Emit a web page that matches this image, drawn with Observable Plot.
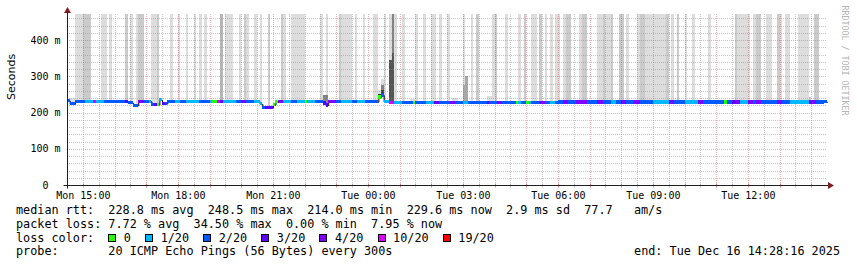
<!DOCTYPE html>
<html><head><meta charset="utf-8">
<script src="https://cdn.jsdelivr.net/npm/d3@7"></script>
<script src="https://cdn.jsdelivr.net/npm/@observablehq/plot@0.6"></script>
<style>
body{margin:0;background:#fff;}
#wrap{position:relative;width:857px;height:267px;overflow:hidden;background:#fff;}
#chart{position:absolute;left:0;top:0;}
.leg{position:absolute;left:16px;font-family:"DejaVu Sans Mono",monospace;font-size:11.8px;line-height:1;white-space:pre;color:#000;}
.box{display:inline-block;width:6px;height:6px;border:1px solid #000;margin-right:0.4px;vertical-align:baseline;}
</style></head>
<body><div id="wrap"><div id="chart"></div></div>
<script>
// ---------- data ----------
const xTickLabels = ["Mon 15:00","Mon 18:00","Mon 21:00","Tue 00:00","Tue 03:00","Tue 06:00","Tue 09:00","Tue 12:00"];
const yTickValues = [0,100,200,300,400];
const yTickLabels = ["0","100 m","200 m","300 m","400 m"];
const lossLevels = [0,1,2,3,4,10,19];
const lossLabels = ["0","1/20","2/20","3/20","4/20","10/20","19/20"];
const lossColors = ["#26ff00","#00b8ff","#0059ff","#5e00ff","#7e00ff","#dd00ff","#ff0000"];
const rttStats = ["228.8 ms avg","248.5 ms max","214.0 ms min","229.6 ms now","2.9 ms sd","77.7   am/s"];
const lossStats = ["7.72 % avg","34.50 % max","0.00 % min","7.95 % now"];
const probeText = "20 ICMP Echo Pings (56 Bytes) every 300s";
const endText = "end: Tue Dec 16 14:28:16 2025";

// median rtt (ms), value holds from the given time
const medianChanges = [["14:30",233],["14:35",224],["14:45",231],["16:25",227],["16:35",220],["16:45",231],
 ["17:10",222],["17:25",235],["17:30",225],["17:40",231],["20:35",224],["20:40",214],["21:00",222],["21:05",231],
 ["22:35",226],["22:40",221],["22:45",230],["00:20",243],["00:25",248.5],["00:30",231],["00:40",228],
 ["03:00",227],["06:00",229],["14:25",229.6]];

// lost pings out of 20, value holds from the given time
const lossChanges = [["14:30",2],["15:05",1],["15:20",10],["15:25",1],["15:40",2],["16:20",3],["16:25",2],["16:45",4],
 ["16:55",2],["17:05",1],["17:10",2],["17:15",3],["17:20",0],["17:25",1],["17:30",3],["17:35",2],["17:55",1],["18:05",2],
 ["18:15",1],["18:40",2],["19:00",1],["19:05",0],["19:15",10],["19:20",3],["19:25",1],["19:50",2],["20:00",4],["20:10",2],
 ["20:25",1],["20:40",2],["20:45",3],["21:00",0],["21:10",4],["21:20",1],["21:35",2],["21:45",1],["22:00",0],["22:05",1],
 ["22:20",2],["22:35",3],["22:45",4],["23:00",2],["23:10",1],["23:30",2],["23:40",1],["23:55",2],["00:20",0],["00:25",2],
 ["00:30",1],["00:40",10],["00:50",1],["01:05",2],["01:25",0],["01:30",2],["01:50",1],["02:05",3],["02:15",2],["02:35",4],
 ["02:45",2],["03:00",1],["03:10",2],["03:45",3],["03:50",2],["04:05",4],["04:15",2],["04:40",0],["04:45",1],["04:50",2],
 ["05:00",0],["05:05",1],["05:10",2],["05:25",4],["05:35",2],["05:45",1],["05:55",2],["06:10",4],["06:20",2],["06:35",4],
 ["06:55",2],["07:15",4],["07:25",2],["07:40",1],["07:50",2],["08:00",4],["08:10",2],["08:25",4],["08:35",2],["09:00",1],
 ["09:30",4],["09:40",2],["10:00",1],["10:25",4],["10:35",2],["11:15",0],["11:20",2],["11:30",3],["11:35",4],["11:45",1],
 ["12:00",4],["12:10",2],["12:15",4],["12:25",2],["12:55",4],["13:05",2],["13:20",1],["13:55",4],["14:10",2]];

// smoke: [from, to, highest ping (ms, 500 = above the chart), shade]
const smokeLayers = [
 ["14:35","14:45",240,"l"],["14:45","15:00",500,"l"],["15:00","15:15",500,"m"],["15:35","15:45",500,"l"],
 ["15:50","15:55",500,"l"],["16:20","16:25",500,"m"],["16:30","16:35",500,"l"],["16:40","16:45",500,"l"],
 ["16:45","16:55",500,"m"],["17:10","17:20",500,"l"],["17:20","17:25",500,"m"],["17:45","17:50",500,"l"],
 ["18:00","18:05",500,"l"],["18:15","18:20",500,"l"],["18:30","18:35",500,"l"],["18:40","18:45",500,"l"],
 ["18:50","18:55",500,"l"],["19:20","19:25",500,"d"],["19:30","19:45",500,"l"],["19:55","20:00",500,"l"],
 ["20:05","20:10",500,"m"],["20:10","20:15",500,"l"],["20:25","20:30",500,"l"],["20:35","20:40",500,"l"],
 ["20:50","20:55",500,"m"],["21:15","21:20",500,"m"],["21:20","21:25",500,"l"],["21:35","22:00",500,"l"],
 ["22:30","22:35",500,"l"],["22:40","22:45",500,"l"],["22:35","22:45",248,"k1"],["23:05","23:10",500,"m"],
 ["23:10","23:30",500,"l"],["23:35","23:40",500,"l"],["23:50","23:55",500,"l"],["00:10","00:20",500,"l"],
 ["00:20","00:25",262,"l"],["00:20","00:25",250,"k3"],["00:25","00:30",292,"l"],["00:25","00:30",277,"k1"],
 ["00:25","00:30",263,"k3"],["00:30","00:35",500,"l"],["00:40","00:45",500,"l"],["00:40","00:45",345,"k2"],
 ["00:45","00:50",500,"k1"],["00:45","00:50",364,"k2"],["00:50","00:55",500,"l"],["01:05","01:10",500,"l"],
 ["01:20","01:30",238,"l"],["01:30","01:35",500,"l"],["01:45","01:50",500,"l"],["02:00","02:10",500,"l"],
 ["02:15","02:20",500,"l"],["02:30","02:35",500,"l"],["02:40","02:50",240,"l"],["03:00","03:05",500,"l"],
 ["03:00","03:05",275,"k0"],["03:05","03:10",300,"k0"],["03:15","03:20",500,"l"],["03:25","03:30",500,"m"],
 ["03:45","03:55",246,"l"],["03:55","04:00",500,"l"],["04:00","04:05",500,"m"],["04:20","04:25",500,"l"],
 ["04:45","04:50",500,"l"],["04:55","05:00",500,"m"],["05:10","05:20",500,"l"],["05:25","05:30",500,"m"],
 ["05:35","05:40",500,"l"],["05:45","05:50",500,"l"],["05:55","06:05",500,"l"],["06:10","06:15",500,"l"],
 ["06:15","06:25",500,"m"],["06:40","06:45",500,"l"],["06:45","06:55",500,"m"],["07:15","07:25",500,"l"],
 ["07:25","07:30",500,"m"],["07:30","07:40",500,"l"],["07:40","07:45",500,"m"],["07:55","08:05",500,"m"],
 ["08:10","08:15",500,"l"],["08:30","08:35",500,"l"],["08:35","08:45",500,"m"],["08:45","09:25",500,"l"],
 ["09:25","09:30",500,"m"],["09:35","09:40",500,"l"],["09:45","09:50",500,"m"],["10:00","10:05",500,"l"],
 ["10:15","10:20",500,"l"],["10:45","10:50",500,"l"],["11:35","11:40",500,"m"],["11:40","12:05",500,"l"],
 ["12:10","12:15",500,"l"],["12:15","12:25",500,"m"],["12:35","12:45",500,"l"],["12:55","13:00",500,"m"],
 ["13:00","13:05",500,"l"],["13:10","13:20",500,"l"],["13:35","13:55",500,"l"],["13:55","14:00",242,"m"],
 ["14:05","14:15",500,"m"]];

// ---------- styles ----------
const shadeColor = {l:"#dddddd", m:"#cbcbcb", d:"#b6b6b6", k0:"#a9a9a9", k1:"#838383", k2:"#555555", k3:"#3c3c3c"};
const mono = "DejaVu Sans Mono";
const minorGrid = "#8f8f8f", minorOp = 0.5, majorGrid = "#de4f4f", majorOp = 0.45;
const arrowColor = "#7f1f1f", axisColor = "#1f1f1f";

// ---------- time helpers ----------
const t0 = Date.UTC(2025, 11, 15, 14, 30);
const tStart = new Date(t0), tEnd = new Date(t0 + 1440 * 60000);
function T(s){ const [h,m] = s.split(":").map(Number); let min = h*60 + m - (14*60+30); if (min < 0) min += 1440; return new Date(t0 + min*60000); }
function lookup(changes, t){ let v = changes[0][1]; for (const [s,val] of changes) { if (T(s) <= t) v = val; else break; } return v; }

const steps = d3.range(288).map(i => {
  const t = new Date(t0 + i*300000);
  return {t, t2: new Date(+t + 300000), median: lookup(medianChanges, t), loss: lookup(lossChanges, t)};
});
const lineRows = steps.concat([{t: tEnd, median: steps[steps.length-1].median}]);
const smokeRows = smokeLayers.map(([a,b,top,sh]) => ({t1: T(a), t2: T(b), base: lookup(medianChanges, T(a)) - 4, top, fill: shadeColor[sh]}));
const lossColor = l => lossColors[lossLevels.indexOf(l)];

const minorX = d3.utcMinute.every(30).range(new Date(t0 + 60000), tEnd).filter(d => d.getUTCMinutes() === 30);
const majorX = d3.utcHour.range(new Date(t0 + 60000), tEnd);
const minorY = d3.range(20, 472, 20).filter(v => v % 100 !== 0);
const majorY = yTickValues.filter(v => v > 0);
const yRows = yTickValues.map((v,i) => ({v, label: yTickLabels[i]}));

const gridStyle = (c, o) => ({stroke: c, strokeOpacity: o, strokeDasharray: "1,1", shapeRendering: "crispEdges"});

const plot = Plot.plot({
  width: 857, height: 205,
  marginLeft: 67, marginRight: 30, marginTop: 14, marginBottom: 20,
  x: {type: "utc", domain: [tStart, tEnd], axis: null},
  y: {domain: [0, 472], axis: null},
  style: {background: "transparent", overflow: "visible"},
  marks: [
    Plot.rect(smokeRows, {x1: "t1", x2: "t2", y1: "base", y2: "top", fill: "fill", clip: true, shapeRendering: "crispEdges"}),
    Plot.ruleY(minorY, gridStyle(minorGrid, minorOp)),
    Plot.ruleX(minorX, gridStyle(minorGrid, minorOp)),
    Plot.ruleY(majorY, gridStyle(majorGrid, majorOp)),
    Plot.ruleX(majorX, gridStyle(majorGrid, majorOp)),
    Plot.line(lineRows, {x: "t", y: "median", curve: "step-after", stroke: "#000", strokeWidth: 1}),
    Plot.rect(steps, {x1: "t", x2: "t2", y1: d => d.median - 4.5, y2: d => d.median + 4.5, fill: d => lossColor(d.loss), shapeRendering: "crispEdges"}),
    Plot.text(yRows.filter(d => d.v > 0), {y: "v", text: "label", frameAnchor: "left", textAnchor: "end", dx: -7, fontFamily: mono, fontSize: 10, fill: "#000"}),
    Plot.text(yRows.filter(d => d.v === 0), {y: "v", text: "label", frameAnchor: "left", textAnchor: "end", dx: -19, fontFamily: mono, fontSize: 10, fill: "#000"}),
    Plot.text(xTickLabels, {x: d => T(d.slice(4)), text: d => d, frameAnchor: "bottom", lineAnchor: "top", dy: 6, fontFamily: mono, fontSize: 10, fill: "#000"}),
    Plot.text(["Seconds"], {frameAnchor: "left", dx: -56, rotate: -90, fontFamily: "DejaVu Sans", fontSize: 11, fill: "#000"}),
    Plot.text(["RRDTOOL / TOBI OETIKER"], {frameAnchor: "top-right", dx: 20, dy: -9, rotate: 90, textAnchor: "start", fontFamily: mono, fontSize: 8.3, fill: "#b4b4b4"})
  ]
});
document.getElementById("chart").appendChild(plot);

// axes, ticks and arrows placed with the plot's scales
const sx = plot.scale("x"), sy = plot.scale("y");
const svg = d3.select(plot);
const X0 = Math.round(sx.apply(tStart)) + 0.5, X1 = sx.apply(tEnd), Y0 = Math.round(sy.apply(0)) + 0.5, Ytop = sy.apply(472);
const g = svg.append("g");
minorX.forEach(d => { const x = Math.round(sx.apply(d)) + 0.5; g.append("line").attr("x1", x).attr("x2", x).attr("y1", Y0 - 2).attr("y2", Y0 + 2).attr("stroke", minorGrid).attr("stroke-opacity", minorOp); });
majorX.forEach(d => { const x = Math.round(sx.apply(d)) + 0.5; g.append("line").attr("x1", x).attr("x2", x).attr("y1", Y0 - 2).attr("y2", Y0 + 2).attr("stroke", majorGrid).attr("stroke-opacity", majorOp + 0.2); });
g.append("line").attr("x1", X0 - 4).attr("x2", X1 + 2).attr("y1", Y0).attr("y2", Y0).attr("stroke", axisColor);
g.append("line").attr("x1", X0).attr("x2", X0).attr("y1", Y0 + 3).attr("y2", Ytop - 3).attr("stroke", axisColor);
g.append("path").attr("d", `M${X0 - 3.5},${Ytop - 1}L${X0 + 3.5},${Ytop - 1}L${X0},${Ytop - 7}Z`).attr("fill", arrowColor);
g.append("path").attr("d", `M${X1 + 1},${Y0 - 3.5}L${X1 + 1},${Y0 + 3.5}L${X1 + 7},${Y0}Z`).attr("fill", arrowColor);

// legend below the chart
const wrap = document.getElementById("wrap");
function addLine(top, html){ const d = document.createElement("div"); d.className = "leg"; d.style.top = top + "px"; d.innerHTML = html; wrap.appendChild(d); return d; }
addLine(205, "median rtt:  " + rttStats.join("  "));
addLine(219, "packet loss: " + lossStats.join("  "));
addLine(233, "loss color:  " + lossLabels.map((l,i) => `<span class="box" style="background:${lossColors[i]}"></span> ${l}`).join("  "));
addLine(246, "probe:       " + probeText);
const e = addLine(246, endText); e.style.left = "auto"; e.style.right = "17px";
</script></body></html>
